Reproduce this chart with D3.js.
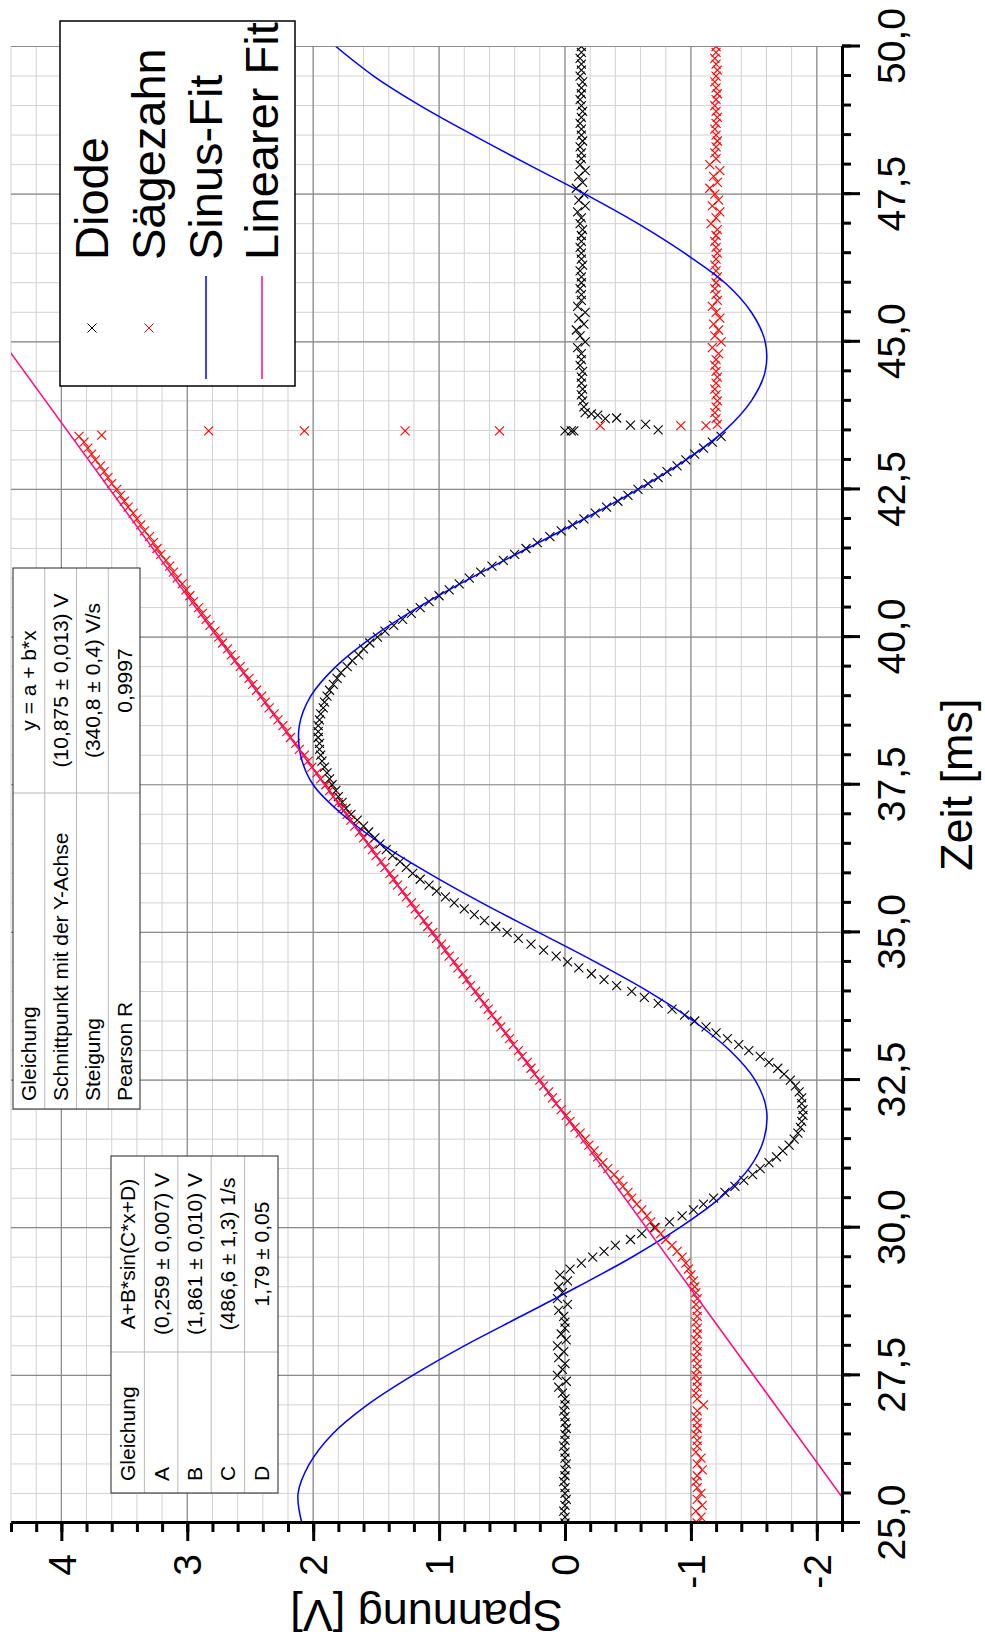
<!DOCTYPE html>
<html>
<head>
<meta charset="utf-8">
<script src="https://cdn.jsdelivr.net/npm/d3@7"></script>
<style>
  body { margin: 0; background: #fff; }
  svg { display: block; }
  text { font-family: "Liberation Sans", Arial, sans-serif; fill: #000; }
</style>
</head>
<body>
<div id="chart"></div>
<script>
// Messzeitpunkte in ms (Abstand 0,1 ms)
const zeit = [
  25.0,25.1,25.2,25.3,25.4,25.5,25.6,25.7,25.8,25.9,
  26.0,26.1,26.2,26.3,26.4,26.5,26.6,26.7,26.8,26.9,
  27.0,27.1,27.2,27.3,27.4,27.5,27.6,27.7,27.8,27.9,
  28.0,28.1,28.2,28.3,28.4,28.5,28.6,28.7,28.8,28.9,
  29.0,29.1,29.2,29.3,29.4,29.5,29.6,29.7,29.8,29.9,
  30.0,30.1,30.2,30.3,30.4,30.5,30.6,30.7,30.8,30.9,
  31.0,31.1,31.2,31.3,31.4,31.5,31.6,31.7,31.8,31.9,
  32.0,32.1,32.2,32.3,32.4,32.5,32.6,32.7,32.8,32.9,
  33.0,33.1,33.2,33.3,33.4,33.5,33.6,33.7,33.8,33.9,
  34.0,34.1,34.2,34.3,34.4,34.5,34.6,34.7,34.8,34.9,
  35.0,35.1,35.2,35.3,35.4,35.5,35.6,35.7,35.8,35.9,
  36.0,36.1,36.2,36.3,36.4,36.5,36.6,36.7,36.8,36.9,
  37.0,37.1,37.2,37.3,37.4,37.5,37.6,37.7,37.8,37.9,
  38.0,38.1,38.2,38.3,38.4,38.5,38.6,38.7,38.8,38.9,
  39.0,39.1,39.2,39.3,39.4,39.5,39.6,39.7,39.8,39.9,
  40.0,40.1,40.2,40.3,40.4,40.5,40.6,40.7,40.8,40.9,
  41.0,41.1,41.2,41.3,41.4,41.5,41.6,41.7,41.8,41.9,
  42.0,42.1,42.2,42.3,42.4,42.5,42.6,42.7,42.8,42.9,
  43.0,43.1,43.2,43.3,43.4,43.5,43.6,43.7,43.8,43.9,
  44.0,44.1,44.2,44.3,44.4,44.5,44.6,44.7,44.8,44.9,
  45.0,45.1,45.2,45.3,45.4,45.5,45.6,45.7,45.8,45.9,
  46.0,46.1,46.2,46.3,46.4,46.5,46.6,46.7,46.8,46.9,
  47.0,47.1,47.2,47.3,47.4,47.5,47.6,47.7,47.8,47.9,
  48.0,48.1,48.2,48.3,48.4,48.5,48.6,48.7,48.8,48.9,
  49.0,49.1,49.2,49.3,49.4,49.5,49.6,49.7,49.8,49.9,
  50.0
];

// Diode [V]
const diode = [
  0.00,0.00,0.01,0.00,-0.01,0.00,0.00,0.01,0.00,0.00,
  -0.01,0.00,0.00,0.01,0.00,0.00,-0.01,0.00,0.00,0.01,
  0.00,0.00,0.02,0.05,-0.01,0.06,0.02,0.00,0.05,0.01,
  0.06,-0.01,0.03,0.00,0.00,0.01,0.05,-0.02,0.06,0.02,
  0.05,-0.02,0.04,-0.04,-0.13,-0.22,-0.31,-0.40,-0.52,-0.61,
  -0.71,-0.83,-0.93,-1.02,-1.10,-1.18,-1.27,-1.35,-1.42,-1.49,
  -1.55,-1.62,-1.68,-1.73,-1.78,-1.82,-1.85,-1.87,-1.88,-1.89,
  -1.89,-1.88,-1.88,-1.86,-1.83,-1.79,-1.74,-1.69,-1.62,-1.55,
  -1.46,-1.38,-1.29,-1.20,-1.12,-1.03,-0.95,-0.85,-0.74,-0.63,
  -0.53,-0.41,-0.31,-0.21,-0.11,-0.02,0.07,0.17,0.27,0.37,
  0.46,0.55,0.64,0.72,0.80,0.88,0.95,1.02,1.08,1.15,
  1.21,1.26,1.31,1.37,1.42,1.47,1.51,1.56,1.60,1.65,
  1.70,1.74,1.77,1.80,1.82,1.85,1.87,1.89,1.91,1.93,
  1.94,1.95,1.95,1.96,1.96,1.96,1.95,1.94,1.92,1.91,
  1.89,1.87,1.84,1.81,1.78,1.73,1.69,1.64,1.60,1.55,
  1.49,1.43,1.36,1.29,1.22,1.15,1.08,1.00,0.92,0.84,
  0.76,0.67,0.58,0.49,0.40,0.31,0.22,0.12,0.03,-0.06,
  -0.15,-0.24,-0.33,-0.42,-0.50,-0.58,-0.66,-0.74,-0.81,-0.89,
  -0.96,-1.03,-1.10,-1.17,-1.24,null,null,null,-0.16,-0.15,
  -0.14,-0.13,-0.14,-0.13,-0.13,-0.14,-0.12,-0.13,-0.13,-0.10,
  -0.16,-0.12,-0.09,-0.15,-0.11,-0.16,-0.10,-0.13,-0.13,-0.12,
  -0.13,-0.13,-0.12,-0.14,-0.13,-0.13,-0.12,-0.13,-0.13,-0.14,
  -0.12,-0.13,-0.10,-0.16,-0.11,-0.15,-0.09,-0.14,-0.11,-0.16,
  -0.12,-0.13,-0.13,-0.12,-0.14,-0.13,-0.13,-0.12,-0.13,-0.14,
  -0.13,-0.12,-0.13,-0.13,-0.14,-0.12,-0.13,-0.13,-0.12,-0.13,
  -0.13
];

// Sägezahn [V]
const saegezahn = [
  -1.05,-1.08,-1.04,-1.09,-1.05,-1.08,-1.05,-1.04,-1.05,-1.09,
  -1.05,-1.08,-1.04,-1.05,-1.05,-1.04,-1.05,-1.05,-1.04,-1.05,
  -1.10,-1.05,-1.04,-1.05,-1.05,-1.04,-1.05,-1.05,-1.04,-1.05,
  -1.05,-1.04,-1.05,-1.05,-1.04,-1.05,-1.05,-1.04,-1.05,-1.04,
  -1.03,-1.02,-1.00,-0.98,-0.96,-0.93,-0.89,-0.85,-0.80,-0.76,
  -0.72,-0.68,-0.65,-0.61,-0.57,-0.53,-0.50,-0.46,-0.43,-0.39,
  -0.34,-0.30,-0.26,-0.23,-0.19,-0.16,-0.12,-0.08,-0.04,-0.01,
  0.03,0.07,0.10,0.13,0.17,0.20,0.24,0.27,0.30,0.34,
  0.37,0.41,0.44,0.47,0.51,0.54,0.58,0.61,0.64,0.68,
  0.71,0.75,0.78,0.81,0.85,0.88,0.92,0.95,0.98,1.02,
  1.05,1.09,1.12,1.16,1.19,1.22,1.26,1.29,1.33,1.36,
  1.39,1.43,1.46,1.50,1.53,1.56,1.60,1.63,1.67,1.70,
  1.73,1.77,1.80,1.84,1.87,1.90,1.94,1.97,2.01,2.04,
  2.07,2.11,2.14,2.18,2.21,2.24,2.28,2.31,2.35,2.38,
  2.41,2.45,2.48,2.51,2.55,2.58,2.62,2.65,2.68,2.72,
  2.75,2.78,2.82,2.85,2.88,2.91,2.95,2.98,3.01,3.04,
  3.08,3.11,3.14,3.17,3.21,3.24,3.27,3.30,3.34,3.37,
  3.40,3.43,3.47,3.50,3.53,3.56,3.60,3.63,3.66,3.69,
  3.73,3.76,3.79,3.82,3.86,null,-1.21,-1.20,-1.19,-1.20,
  -1.21,-1.20,-1.19,-1.20,-1.21,-1.20,-1.19,-1.20,-1.22,-1.17,
  -1.24,-1.19,-1.22,-1.18,-1.23,-1.20,-1.17,-1.21,-1.20,-1.19,
  -1.20,-1.21,-1.20,-1.19,-1.20,-1.21,-1.20,-1.19,-1.20,-1.21,
  -1.16,-1.20,-1.23,-1.17,-1.22,-1.19,-1.15,-1.21,-1.18,-1.23,
  -1.15,-1.20,-1.19,-1.20,-1.21,-1.20,-1.19,-1.20,-1.21,-1.20,
  -1.19,-1.20,-1.21,-1.20,-1.19,-1.20,-1.21,-1.20,-1.19,-1.20,
  -1.20
];

// Punkte während des Rücksprungs bei ca. 43,5 ms
const diodeSprungZeit = [43.49, 43.49, 43.49, 43.51, 43.59, 43.60, 43.70, 43.71, 43.76, 43.78];
const diodeSprung = [0.00, -0.05, -0.07, -0.74, -0.52, -0.64, -0.32, -0.41, -0.26, -0.21];
const saegezahnSprungZeit = [43.42, 43.49, 43.49, 43.49, 43.49, 43.58, 43.58, 43.58];
const saegezahnSprung = [3.68, 2.83, 2.07, 1.27, 0.52, -0.28, -0.92, -1.12];

const sinusZeit = [
  25.0,25.5,26.0,26.5,27.0,27.5,28.0,28.5,29.0,29.5,
  30.0,30.5,31.0,31.5,32.0,32.5,33.0,33.5,34.0,34.5,
  35.0,35.5,36.0,36.5,37.0,37.5,38.0,38.5,39.0,39.5,
  40.0,40.5,41.0,41.5,42.0,42.5,43.0,43.5,44.0,44.5,
  45.0,45.5,46.0,46.5,47.0,47.5,48.0,48.5,49.0,49.5,
  50.0
];
const sinusFit = [
  2.09,2.12,2.03,1.85,1.57,1.21,0.80,0.35,-0.10,-0.53,
  -0.91,-1.23,-1.46,-1.58,-1.60,-1.51,-1.31,-1.02,-0.66,-0.24,
  0.21,0.66,1.08,1.46,1.77,2.00,2.10,2.11,2.02,1.82,
  1.53,1.17,0.75,0.30,-0.15,-0.58,-0.96,-1.27,-1.48,-1.59,
  -1.59,-1.48,-1.27,-0.95,-0.58,-0.16,0.29,0.73,1.15,1.52,
  1.82
];

// Linearer Fit, Endpunkte
const linearZeit = [25, 50];
const linearFit = [-2.35, 6.17];

// Achsen
const zeitTickWerte = [25, 27.5, 30, 32.5, 35, 37.5, 40, 42.5, 45, 47.5, 50];
const zeitTickLabels = ['25,0', '27,5', '30,0', '32,5', '35,0', '37,5', '40,0', '42,5', '45,0', '47,5', '50,0'];
const spannungTickWerte = [-2, -1, 0, 1, 2, 3, 4];
const spannungTickLabels = ['-2', '-1', '0', '1', '2', '3', '4'];

// Legende und Tabellen
const legendeNamen = ['Diode', 'Sägezahn', 'Sinus-Fit', 'Linearer Fit'];
const sinusTabelle = [
  ['Gleichung', 'A+B*sin(C*x+D)'],
  ['A', '(0,259 ± 0,007) V'],
  ['B', '(1,861 ± 0,010) V'],
  ['C', '(486,6 ± 1,3) 1/s'],
  ['D', '1,79 ± 0,05']
];
const linearTabelle = [
  ['Gleichung', 'y = a + b*x'],
  ['Schnittpunkt mit der Y-Achse', '(10,875 ± 0,013) V'],
  ['Steigung', '(340,8 ± 0,4) V/s'],
  ['Pearson R', '0,9997']
];

// Das Diagramm liegt quer: alles wird im Querformat gezeichnet und um -90° gedreht
const W = 1643, H = 985;
const margin = { top: 11, right: 46.5, bottom: 143, left: 120 };

const svg = d3.select('#chart').append('svg')
  .attr('width', H)
  .attr('height', W);

const g = svg.append('g')
  .attr('transform', `translate(0,${W}) rotate(-90)`);

const x = d3.scaleLinear().domain([25, 50]).range([margin.left, W - margin.right]);
const y = d3.scaleLinear().domain([-2.2, 4.4]).range([H - margin.bottom, margin.top]);

const minorZeit = d3.range(0, 51).map(i => 25 + i * 0.5);
const minorSpannung = d3.range(0, 34).map(i => -2.2 + i * 0.2);

// Gitter
const grid = g.append('g');
grid.selectAll('line.mx').data(minorZeit).join('line')
  .attr('x1', d => x(d)).attr('x2', d => x(d))
  .attr('y1', y(-2.2)).attr('y2', y(4.4))
  .attr('stroke', '#d2d2d2').attr('stroke-width', 1);
grid.selectAll('line.my').data(minorSpannung).join('line')
  .attr('x1', x(25)).attr('x2', x(50))
  .attr('y1', d => y(d)).attr('y2', d => y(d))
  .attr('stroke', '#d2d2d2').attr('stroke-width', 1);
grid.selectAll('line.gx').data(zeitTickWerte).join('line')
  .attr('x1', d => x(d)).attr('x2', d => x(d))
  .attr('y1', y(-2.2)).attr('y2', y(4.4))
  .attr('stroke', '#8a8a8a').attr('stroke-width', 1.2);
grid.selectAll('line.gy').data(spannungTickWerte).join('line')
  .attr('x1', x(25)).attr('x2', x(50))
  .attr('y1', d => y(d)).attr('y2', d => y(d))
  .attr('stroke', '#8a8a8a').attr('stroke-width', 1.2);

// Daten
g.append('clipPath').attr('id', 'plotclip')
  .append('rect')
  .attr('x', x(25)).attr('y', y(4.4))
  .attr('width', x(50) - x(25)).attr('height', y(-2.2) - y(4.4));

const data = g.append('g').attr('clip-path', 'url(#plotclip)');

const kreuz = 'M-4.5,-4.5L4.5,4.5M-4.5,4.5L4.5,-4.5';

const diodePunkte = zeit.map((t, i) => ({ t, v: diode[i] })).filter(d => d.v !== null)
  .concat(diodeSprungZeit.map((t, i) => ({ t, v: diodeSprung[i] })));
const saegePunkte = zeit.map((t, i) => ({ t, v: saegezahn[i] })).filter(d => d.v !== null)
  .concat(saegezahnSprungZeit.map((t, i) => ({ t, v: saegezahnSprung[i] })));

data.selectAll('path.diode').data(diodePunkte).join('path')
  .attr('class', 'diode')
  .attr('d', kreuz)
  .attr('transform', d => `translate(${x(d.t)},${y(d.v)})`)
  .attr('fill', 'none').attr('stroke', '#000').attr('stroke-width', 1.1);

data.selectAll('path.saege').data(saegePunkte).join('path')
  .attr('class', 'saege')
  .attr('d', kreuz)
  .attr('transform', d => `translate(${x(d.t)},${y(d.v)})`)
  .attr('fill', 'none').attr('stroke', '#ff0000').attr('stroke-width', 1.1);

const sinusLine = d3.line()
  .x(d => x(d[0]))
  .y(d => y(d[1]))
  .curve(d3.curveCatmullRom);

data.append('path')
  .datum(sinusZeit.map((t, i) => [t, sinusFit[i]]))
  .attr('fill', 'none')
  .attr('stroke', '#0000ff')
  .attr('stroke-width', 1.5)
  .attr('d', sinusLine);

data.append('path')
  .datum(linearZeit.map((t, i) => [t, linearFit[i]]))
  .attr('fill', 'none')
  .attr('stroke', '#ff0a80')
  .attr('stroke-width', 1.5)
  .attr('d', d3.line().x(d => x(d[0])).y(d => y(d[1])));

// Achsen
const gxMinor = g.append('g').attr('transform', `translate(0,${y(-2.2)})`)
  .call(d3.axisBottom(x).tickValues(minorZeit).tickSize(9).tickSizeOuter(0).tickFormat(''));
const gx = g.append('g').attr('transform', `translate(0,${y(-2.2)})`)
  .call(d3.axisBottom(x).tickValues(zeitTickWerte).tickSize(18).tickSizeOuter(0)
    .tickFormat((d, i) => zeitTickLabels[i]));

const gyMinor = g.append('g').attr('transform', `translate(${x(25)},0)`)
  .call(d3.axisLeft(y).tickValues(minorSpannung).tickSize(9).tickSizeOuter(0).tickFormat(''));
const gy = g.append('g').attr('transform', `translate(${x(25)},0)`)
  .call(d3.axisLeft(y).tickValues(spannungTickWerte).tickSize(18).tickSizeOuter(0)
    .tickFormat((d, i) => spannungTickLabels[i]));

[gxMinor, gx, gyMinor, gy].forEach(a => {
  a.select('.domain').attr('stroke', '#000').attr('stroke-width', 3);
  a.selectAll('.tick line').attr('stroke', '#000').attr('stroke-width', 3);
});

gx.selectAll('.tick text')
  .attr('y', 63).attr('dy', 0)
  .style('font-size', '39px')
  .style('font-family', '"Liberation Sans", Arial, sans-serif');
gy.selectAll('.tick text')
  .attr('x', -31).attr('dy', '0.35em')
  .style('font-size', '39px')
  .style('font-family', '"Liberation Sans", Arial, sans-serif');

g.append('text')
  .attr('x', (x(25) + x(50)) / 2)
  .attr('y', 972)
  .attr('text-anchor', 'middle')
  .style('font-size', '45px')
  .text('Zeit [ms]');

g.append('text')
  .attr('transform', `translate(43,${(y(-2.2) + y(4.4)) / 2}) rotate(-90)`)
  .attr('text-anchor', 'middle')
  .style('font-size', '45px')
  .text('Spannung [V]');

// Tabellen
function tabelle(x0, y0, w, h, teilung, zeilen, pad) {
  const t = g.append('g');
  const rowH = h / zeilen.length;
  t.append('rect')
    .attr('x', x0).attr('y', y0).attr('width', w).attr('height', h)
    .attr('fill', '#fff');
  zeilen.forEach((z, i) => {
    if (i > 0) {
      t.append('line')
        .attr('x1', x0).attr('x2', x0 + w)
        .attr('y1', y0 + i * rowH).attr('y2', y0 + i * rowH)
        .attr('stroke', '#b9b9b9').attr('stroke-width', 1);
    }
    const by = y0 + i * rowH + rowH / 2 + 7.5;
    t.append('text')
      .attr('x', x0 + pad).attr('y', by)
      .style('font-size', '21px')
      .text(z[0]);
    t.append('text')
      .attr('x', (teilung + x0 + w) / 2).attr('y', by)
      .attr('text-anchor', 'middle')
      .style('font-size', '21px')
      .text(z[1]);
  });
  t.append('line')
    .attr('x1', teilung).attr('x2', teilung)
    .attr('y1', y0).attr('y2', y0 + h)
    .attr('stroke', '#b9b9b9').attr('stroke-width', 1);
  t.append('rect')
    .attr('x', x0).attr('y', y0).attr('width', w).attr('height', h)
    .attr('fill', 'none').attr('stroke', '#222').attr('stroke-width', 1);
}

tabelle(534, 13, 541, 127, 850, linearTabelle, 8);
tabelle(150, 111, 337, 167, 291, sinusTabelle, 12);

// Legende
const leg = g.append('g');
leg.append('rect')
  .attr('x', 1257).attr('y', 60).attr('width', 365).attr('height', 235)
  .attr('fill', '#fff').attr('stroke', '#000').attr('stroke-width', 1.5);

const legendeY = [108, 165, 222, 278];
legendeNamen.forEach((n, i) => {
  leg.append('text')
    .attr('x', 1383).attr('y', legendeY[i])
    .style('font-size', '47px')
    .text(n);
});
leg.append('path').attr('d', 'M-4.5,-4.5L4.5,4.5M-4.5,4.5L4.5,-4.5')
  .attr('transform', `translate(1315,${legendeY[0] - 16})`)
  .attr('stroke', '#000').attr('stroke-width', 1).attr('fill', 'none');
leg.append('path').attr('d', 'M-4.5,-4.5L4.5,4.5M-4.5,4.5L4.5,-4.5')
  .attr('transform', `translate(1315,${legendeY[1] - 16})`)
  .attr('stroke', '#ff0000').attr('stroke-width', 1).attr('fill', 'none');
leg.append('line')
  .attr('x1', 1264).attr('x2', 1367).attr('y1', legendeY[2] - 16).attr('y2', legendeY[2] - 16)
  .attr('stroke', '#0000ff').attr('stroke-width', 1.5);
leg.append('line')
  .attr('x1', 1264).attr('x2', 1367).attr('y1', legendeY[3] - 16).attr('y2', legendeY[3] - 16)
  .attr('stroke', '#ff0a80').attr('stroke-width', 1.5);
</script>
</body>
</html>
